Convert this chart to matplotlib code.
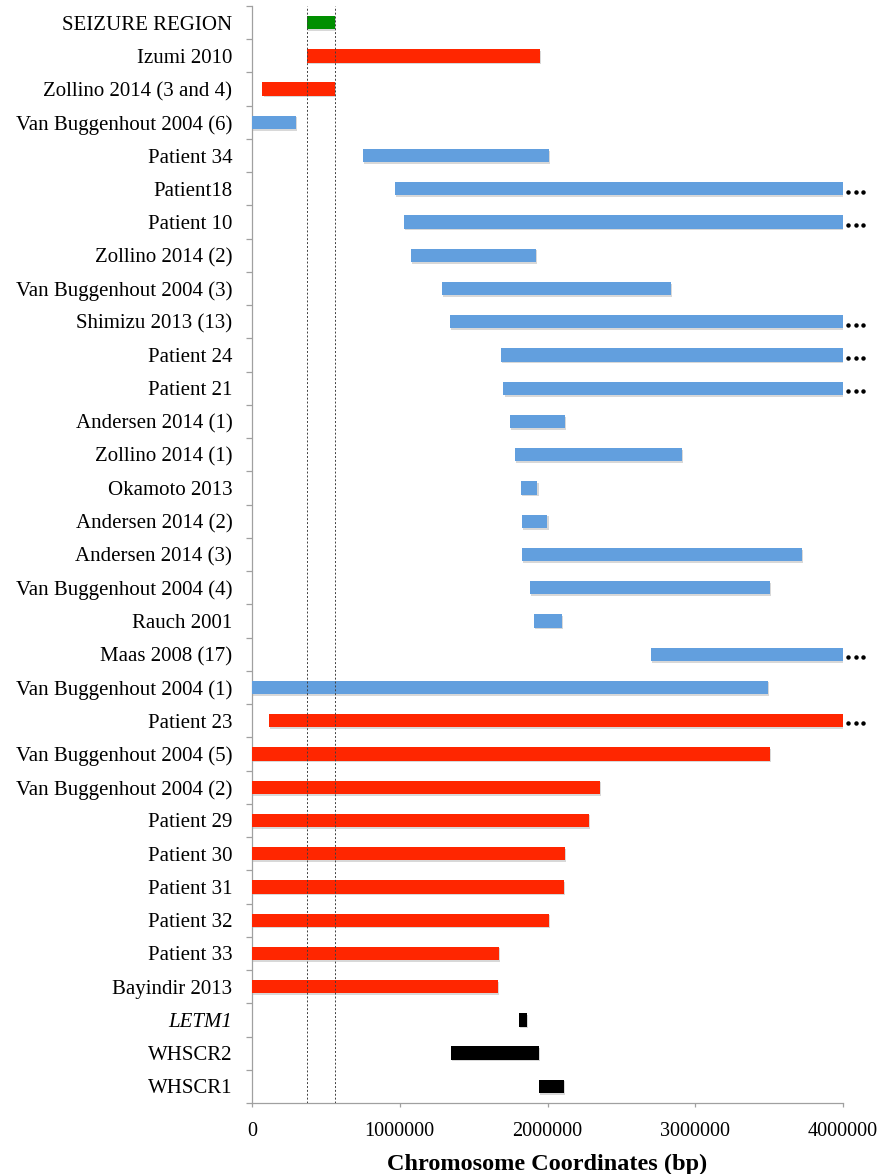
import matplotlib
matplotlib.use("Agg")
import matplotlib.pyplot as plt
import matplotlib.patheffects as pe
from matplotlib.transforms import offset_copy
import numpy as np

plt.rcParams['font.family'] = ['Liberation Serif', 'DejaVu Serif']

# deletion intervals (bp), top to bottom
labels = ["SEIZURE REGION", "Izumi 2010", "Zollino 2014 (3 and 4)", "Van Buggenhout 2004 (6)",
          "Patient 34", "Patient18", "Patient 10", "Zollino 2014 (2)", "Van Buggenhout 2004 (3)",
          "Shimizu 2013 (13)", "Patient 24", "Patient 21", "Andersen 2014 (1)", "Zollino 2014 (1)",
          "Okamoto 2013", "Andersen 2014 (2)", "Andersen 2014 (3)", "Van Buggenhout 2004 (4)",
          "Rauch 2001", "Maas 2008 (17)", "Van Buggenhout 2004 (1)", "Patient 23",
          "Van Buggenhout 2004 (5)", "Van Buggenhout 2004 (2)", "Patient 29", "Patient 30",
          "Patient 31", "Patient 32", "Patient 33", "Bayindir 2013", "LETM1", "WHSCR2", "WHSCR1"]
starts = [372000, 371000, 71000, 0, 751000, 965000, 1026000, 1078000, 1286000,
          1340000, 1685000, 1702000, 1743000, 1779000, 1822000, 1827000, 1829000, 1881000,
          1908000, 2702000, 0, 112000, 0, 0, 0, 0,
          0, 0, 0, 0, 1807000, 1344000, 1943000]
ends = [560000, 1951000, 562000, 298000, 2009000, 4000000, 4000000, 1921000, 2835000,
        4000000, 4000000, 4000000, 2120000, 2911000, 1932000, 2000000, 3722000, 3507000,
        2095000, 4000000, 3493000, 4000000, 3507000, 2352000, 2282000, 2118000,
        2111000, 2009000, 1671000, 1662000, 1858000, 1943000, 2110000]
# region / seizures / no seizures / gene
group = ["region", "seizure", "seizure", "none", "none", "none", "none", "none", "none",
         "none", "none", "none", "none", "none", "none", "none", "none", "none",
         "none", "none", "none", "seizure", "seizure", "seizure", "seizure", "seizure",
         "seizure", "seizure", "seizure", "seizure", "gene", "gene", "gene"]
extends = [e >= 4000000 for e in ends]
seizure_bounds = [372000, 560000]

colors = {"region": "#008F00", "seizure": "#FF2600", "none": "#629FDE", "gene": "#000000"}

fig = plt.figure(figsize=(8.93, 11.74), dpi=100)
ax = fig.add_axes([252/893, 1-1103/1174, 591/893, 1097/1174])

y = np.arange(len(labels))
shadow = [pe.SimplePatchShadow(offset=(0.8, -1.2), shadow_rgbFace='#808080', alpha=0.3), pe.Normal()]
bars = ax.barh(y, np.array(ends) - np.array(starts), left=starts, height=0.4,
               color=[colors[g] for g in group], zorder=3)
for b in bars:
    b.set_path_effects(shadow)

for xv in seizure_bounds:
    ax.axvline(xv, color='#404040', lw=0.7, ls=(0, (2, 2)), zorder=4)

# "..." after deletions that run past the chart
for i in y:
    if extends[i]:
        for k in range(3):
            tr = offset_copy(ax.transData, fig=fig, x=3.8 + 5.3*k, y=-2.0, units='points')
            ax.plot(ends[i], i, marker='o', ms=2.2, color='black', transform=tr, clip_on=False)

ax.set_xlim(0, 4000000)
ax.set_ylim(len(labels) - 0.5, -0.5)
ax.set_xticks([0, 1000000, 2000000, 3000000, 4000000])
ax.set_xticklabels(["0", "1000000", "2000000", "3000000", "4000000"], fontsize=14.5)
ax.set_yticks(y)
ax.set_yticklabels(labels, fontsize=15)
ax.get_yticklabels()[labels.index("LETM1")].set_style('italic')
ax.set_yticks(np.arange(-0.5, len(labels)), minor=True)
ax.tick_params(axis='y', which='major', length=0, pad=14.2)
ax.tick_params(axis='y', which='minor', length=4, width=0.9, color='#A0A0A0')
ax.tick_params(axis='x', length=3, width=0.9, color='#A0A0A0', pad=11)
ax.set_xlabel("Chromosome Coordinates (bp)", fontsize=17.5, fontweight='bold', labelpad=9)

for s in ['top', 'right']:
    ax.spines[s].set_visible(False)
for s in ['left', 'bottom']:
    ax.spines[s].set_color('#A0A0A0')
    ax.spines[s].set_linewidth(0.9)

fig.savefig("out.png", dpi=100)
